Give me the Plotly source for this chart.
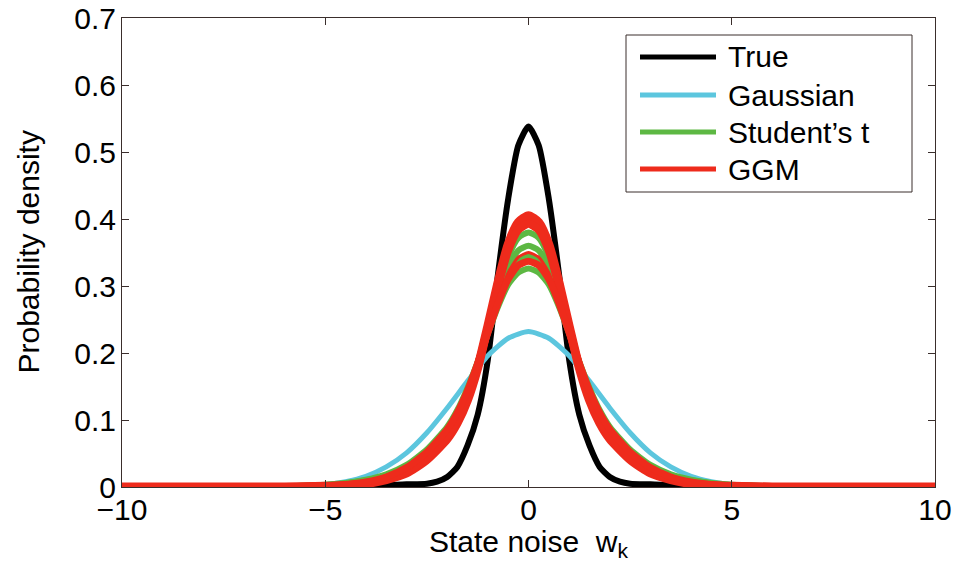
import plotly.graph_objects as go

# ---------------- data ----------------
x_true = [-10, -5, -4, -3.5, -3, -2.5, -2.25, -2, -1.75, -1.5, -1.25, -1, -0.75, -0.5, -0.25,
          0, 0.25, 0.5, 0.75, 1, 1.25, 1.5, 1.75, 2, 2.25, 2.5, 3, 3.5, 4, 5, 10]
y_true = [0, 0, 0.001, 0.003, 0.004, 0.005, 0.008, 0.015, 0.03, 0.062, 0.108, 0.19, 0.318, 0.43, 0.51,
          0.538, 0.51, 0.43, 0.318, 0.19, 0.108, 0.062, 0.03, 0.015, 0.008, 0.005, 0.004, 0.003, 0.001, 0, 0]

x_gauss = [-10, -8, -7, -6, -5.5, -5, -4.5, -4, -3.5, -3, -2.5, -2, -1.5, -1, -0.5,
           0, 0.5, 1, 1.5, 2, 2.5, 3, 3.5, 4, 4.5, 5, 5.5, 6, 7, 8, 10]
y_gauss = [0, 0, 0, 0.0005, 0.0015, 0.0035, 0.008, 0.016, 0.03, 0.051, 0.081, 0.118, 0.158, 0.196, 0.222,
           0.232, 0.222, 0.196, 0.158, 0.118, 0.081, 0.051, 0.03, 0.016, 0.008, 0.0035, 0.0015, 0.0005, 0, 0, 0]

x_runs = [-10, -8, -6, -5, -4.5, -4, -3.5, -3, -2.5, -2, -1.75, -1.5, -1.25, -1, -0.75, -0.5, -0.25,
          0, 0.25, 0.5, 0.75, 1, 1.25, 1.5, 1.75, 2, 2.5, 3, 3.5, 4, 4.5, 5, 6, 8, 10]

# Student's t runs
t_run1 = [0, 0.0002, 0.0008, 0.0025, 0.0045, 0.008, 0.015, 0.027, 0.048, 0.08, 0.104, 0.137, 0.181, 0.236, 0.294, 0.343, 0.372,
          0.38, 0.372, 0.343, 0.294, 0.236, 0.181, 0.137, 0.104, 0.08, 0.048, 0.027, 0.015, 0.008, 0.0045, 0.0025, 0.0008, 0.0002, 0]
t_run2 = [0, 0.0002, 0.0009, 0.0028, 0.005, 0.009, 0.016, 0.029, 0.051, 0.083, 0.108, 0.141, 0.184, 0.234, 0.285, 0.327, 0.353,
          0.36, 0.353, 0.327, 0.285, 0.234, 0.184, 0.141, 0.108, 0.083, 0.051, 0.029, 0.016, 0.009, 0.005, 0.0028, 0.0009, 0.0002, 0]
t_run3 = [0, 0.0003, 0.001, 0.003, 0.0055, 0.01, 0.017, 0.031, 0.054, 0.087, 0.112, 0.145, 0.186, 0.232, 0.278, 0.316, 0.339,
          0.345, 0.339, 0.316, 0.278, 0.232, 0.186, 0.145, 0.112, 0.087, 0.054, 0.031, 0.017, 0.01, 0.0055, 0.003, 0.001, 0.0003, 0]
t_run4 = [0, 0.0003, 0.0011, 0.0035, 0.006, 0.011, 0.019, 0.033, 0.056, 0.09, 0.115, 0.148, 0.187, 0.229, 0.269, 0.302, 0.32,
          0.326, 0.32, 0.302, 0.269, 0.229, 0.187, 0.148, 0.115, 0.09, 0.056, 0.033, 0.019, 0.011, 0.006, 0.0035, 0.0011, 0.0003, 0]

# GGM runs
g_run1 = [0, 0, 0, 0.001, 0.002, 0.005, 0.011, 0.021, 0.041, 0.072, 0.096, 0.13, 0.178, 0.24, 0.305, 0.362, 0.395,
          0.405, 0.395, 0.362, 0.305, 0.24, 0.178, 0.13, 0.096, 0.072, 0.041, 0.021, 0.011, 0.005, 0.002, 0.001, 0, 0, 0]
g_run2 = [0, 0, 0, 0.0012, 0.0025, 0.0055, 0.012, 0.023, 0.043, 0.075, 0.099, 0.133, 0.179, 0.238, 0.3, 0.353, 0.384,
          0.393, 0.384, 0.353, 0.3, 0.238, 0.179, 0.133, 0.099, 0.075, 0.043, 0.023, 0.012, 0.0055, 0.0025, 0.0012, 0, 0, 0]
g_run3 = [0, 0, 0.0004, 0.0017, 0.0035, 0.007, 0.014, 0.027, 0.05, 0.083, 0.108, 0.142, 0.184, 0.232, 0.28, 0.32, 0.343,
          0.35, 0.343, 0.32, 0.28, 0.232, 0.184, 0.142, 0.108, 0.083, 0.05, 0.027, 0.014, 0.007, 0.0035, 0.0017, 0.0004, 0, 0]
g_run4 = [0, 0, 0.0005, 0.0018, 0.0037, 0.0075, 0.015, 0.029, 0.052, 0.086, 0.111, 0.144, 0.185, 0.23, 0.274, 0.31, 0.331,
          0.337, 0.331, 0.31, 0.274, 0.23, 0.185, 0.144, 0.111, 0.086, 0.052, 0.029, 0.015, 0.0075, 0.0037, 0.0018, 0.0005, 0, 0]

legend_labels = ["True", "Gaussian", "Student\u2019s t", "GGM"]
x_ticks = [-10, -5, 0, 5, 10]
y_ticks = [0, 0.1, 0.2, 0.3, 0.4, 0.5, 0.6, 0.7]
x_title = "State noise\u00a0 w<sub>k</sub>"
y_title = "Probability density"

# ---------------- styles ----------------
C_TRUE = "#000000"
C_GAUSS = "#5cc6de"
C_T = "#5db843"
C_GGM = "#ee2b1c"
FONT = "Liberation Sans, Arial, Helvetica, sans-serif"
AXC = "#3a2e2c"

fig = go.Figure()

def line(x, y, color, width):
    fig.add_trace(go.Scatter(x=x, y=y, mode="lines", showlegend=False,
                             line=dict(color=color, width=width, shape="spline", smoothing=0.6),
                             hoverinfo="skip"))

line(x_true, y_true, C_TRUE, 6)
line(x_gauss, y_gauss, C_GAUSS, 5)
for r in (t_run4, t_run3, t_run2, t_run1):
    line(x_runs, r, C_T, 6)
line(x_runs, g_run1, C_GGM, 9)
line(x_runs, g_run2, C_GGM, 8)
line(x_runs, g_run3, C_GGM, 3)
line(x_runs, g_run4, C_GGM, 7)

# ---------------- layout (page is offset by 8px body margin) ----------------
OFF = 8
FIG_W, FIG_H = 961 - OFF, 569 - OFF
L, T = 122, 18          # plot area left/top in page pixels
W, H = 813, 469         # plot area size
def px(xp):
    return (xp - L) / W
def py(yp):
    return (T + H - yp) / H

# ---------------- legend (drawn in paper coords) ----------------
fig.add_shape(type="rect", xref="paper", yref="paper",
              x0=px(626), x1=px(912), y0=py(192), y1=py(35),
              line=dict(color=AXC, width=1), fillcolor="white", layer="above")
leg_colors = [C_TRUE, C_GAUSS, C_T, C_GGM]
leg_y = [57, 95, 132, 169]
for lab, col, yy in zip(legend_labels, leg_colors, leg_y):
    fig.add_shape(type="line", xref="paper", yref="paper",
                  x0=px(640), x1=px(716), y0=py(yy), y1=py(yy),
                  line=dict(color=col, width=5), layer="above")
    fig.add_annotation(xref="paper", yref="paper", x=px(726), y=py(yy),
                       text=lab, showarrow=False, xanchor="left", yanchor="middle",
                       font=dict(family=FONT, size=30, color="black"))

# axis titles as annotations for exact placement
fig.add_annotation(xref="paper", yref="paper", x=0.5, y=py(543),
                   text=x_title, showarrow=False, xanchor="center", yanchor="middle",
                   font=dict(family=FONT, size=30, color="black"))
fig.add_annotation(xref="paper", yref="paper", x=px(28), y=0.5,
                   text=y_title, showarrow=False, textangle=-90,
                   xanchor="center", yanchor="middle",
                   font=dict(family=FONT, size=30, color="black"))

fig.update_layout(
    width=FIG_W, height=FIG_H,
    margin=dict(l=L - OFF, r=FIG_W - (L - OFF) - W, t=T - OFF, b=FIG_H - (T - OFF) - H,
                autoexpand=False),
    paper_bgcolor="white", plot_bgcolor="white",
    font=dict(family=FONT, size=30, color="black"),
    showlegend=False,
)
fig.update_xaxes(range=[-10, 10], tickvals=x_ticks, ticks="inside", ticklen=7,
                 tickcolor=AXC, showline=True, linecolor=AXC, linewidth=1, mirror="ticks",
                 showgrid=False, zeroline=False, automargin=False,
                 ticklabelstandoff=-4, ticklabeloverflow="allow",
                 tickfont=dict(family=FONT, size=30))
fig.update_yaxes(range=[0, 0.7], tickvals=y_ticks, ticks="inside", ticklen=7,
                 tickcolor=AXC, showline=True, linecolor=AXC, linewidth=1, mirror="ticks",
                 showgrid=False, zeroline=False, automargin=False,
                 ticklabelstandoff=-1, ticklabeloverflow="allow",
                 tickfont=dict(family=FONT, size=30))

fig.write_html("out.html")
